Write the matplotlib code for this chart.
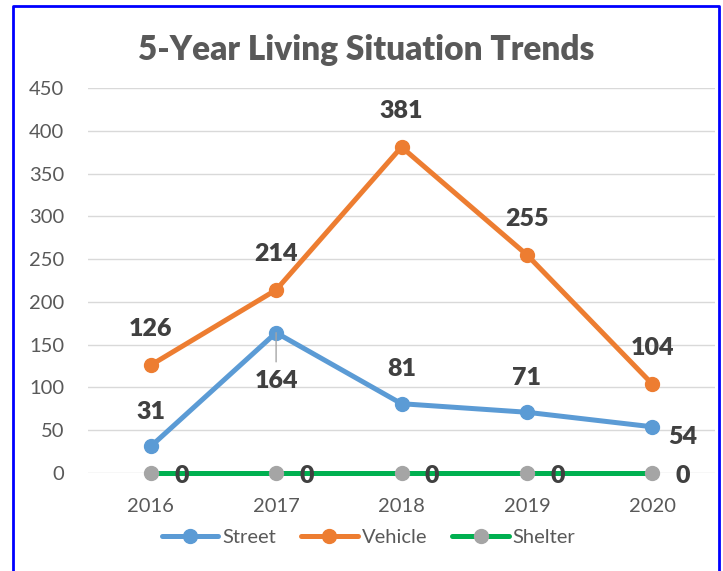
import matplotlib.pyplot as plt
import numpy as np

years = ["2016", "2017", "2018", "2019", "2020"]
street = [31, 164, 81, 71, 54]
vehicle = [126, 214, 381, 255, 104]
shelter = [0, 0, 0, 0, 0]

plt.rcParams['font.family'] = ['Lato', 'DejaVu Sans']

fig = plt.figure(figsize=(7.23, 5.71), dpi=100)
ax = fig.add_axes([88 / 723, 98 / 571, 627 / 723, 385 / 571])

x = np.arange(len(years))
ax.plot(x, street, color="#5B9BD5", lw=3.6, marker="o", ms=10, mfc="#5B9BD5", mec="#5B9BD5",
        label="Street", solid_capstyle="round", zorder=3)
ax.plot(x, vehicle, color="#ED7D31", lw=3.6, marker="o", ms=10, mfc="#ED7D31", mec="#ED7D31",
        label="Vehicle", solid_capstyle="round", zorder=3)
ax.plot(x, shelter, color="#00B050", lw=3.6, marker="o", ms=10, mfc="#A5A5A5", mec="#A5A5A5",
        label="Shelter", solid_capstyle="round", zorder=3, clip_on=False)

lab = dict(ha="center", va="center", fontsize=18, fontweight="heavy", color="#404040",
           textcoords="offset points")

# street labels
for i, v in enumerate(street):
    if i == 1:
        ax.annotate(str(v), (i, v), xytext=(0, -35), **lab)
        ax.annotate("", (i, v), xytext=(0, -21), textcoords="offset points",
                    arrowprops=dict(arrowstyle="-", color="#A6A6A6", lw=1, shrinkA=0, shrinkB=0))
    elif i == 4:
        ax.annotate(str(v), (i, v), xytext=(22, -7), **lab)
    else:
        ax.annotate(str(v), (i, v), xytext=(0, 25), **lab)

for i, v in enumerate(vehicle):
    ax.annotate(str(v), (i, v), xytext=(0, 26), **lab)

for i, v in enumerate(shelter):
    ax.annotate(str(v), (i, v), xytext=(22, -2), **lab)

ax.set_xlim(-0.5, 4.5)
ax.set_ylim(0, 450)
ax.set_yticks(np.arange(0, 451, 50))
ax.set_xticks(x)
ax.set_xticklabels(years)
ax.grid(axis="y", color="#D9D9D9", lw=1)
ax.set_axisbelow(True)
for s in ax.spines.values():
    s.set_visible(False)
ax.tick_params(length=0, labelsize=14.5, labelcolor="#595959")
ax.tick_params(axis="y", pad=17)
ax.tick_params(axis="x", pad=18)

fig.text(0.507, 1 - 50 / 571, "5-Year Living Situation Trends", ha="center", va="center",
         fontsize=24, fontweight="heavy", color="#595959")

leg = fig.legend(loc="center", bbox_to_anchor=(0.51, 1 - 537 / 571), ncol=3, frameon=False,
                 fontsize=14.5, handlelength=2.8, handletextpad=0.2, columnspacing=1.25)
for t in leg.get_texts():
    t.set_color("#595959")

# blue border
fig.add_artist(plt.Line2D([13 / 723, 13 / 723, 719 / 723, 719 / 723],
                          [0, 1 - 6 / 571, 1 - 6 / 571, 0], color="#0000FF", lw=2,
                          transform=fig.transFigure))

fig.savefig("out.png", dpi=100)
